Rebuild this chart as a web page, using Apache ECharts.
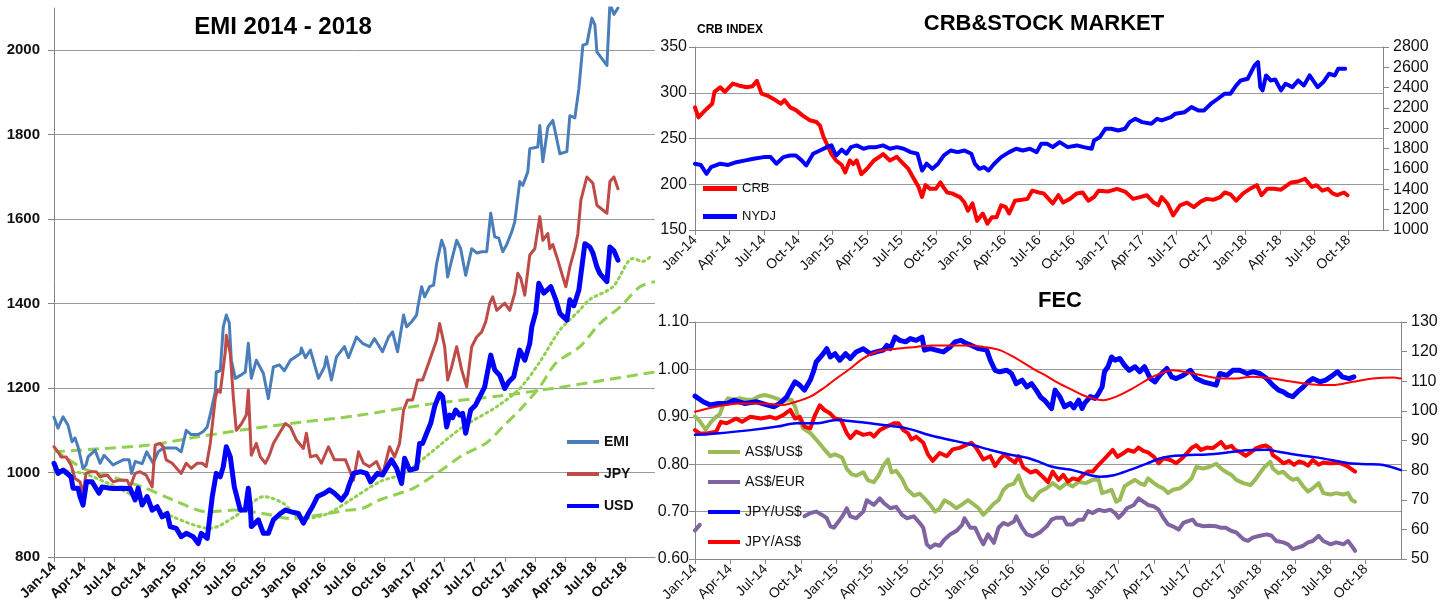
<!DOCTYPE html>
<html><head><meta charset="utf-8">
<script src="https://cdn.jsdelivr.net/npm/echarts@6/dist/echarts.min.js"></script>
<style>html,body{margin:0;padding:0;background:#fff}#c{width:1441px;height:613px}</style>
</head><body><div id="c"></div><script>
// x values are months since Jan-2014
const quarterLabels = ['Jan-14','Apr-14','Jul-14','Oct-14','Jan-15','Apr-15','Jul-15','Oct-15','Jan-16','Apr-16','Jul-16','Oct-16','Jan-17','Apr-17','Jul-17','Oct-17','Jan-18','Apr-18','Jul-18','Oct-18'];

// ---- EMI panel ----
const emi = [[0,1131],[0.4,1105],[0.9,1132],[1.4,1112],[1.8,1073],[2.1,1082],[2.4,1061],[2.9,1010],[3.2,1018],[3.4,1037],[4.1,1053],[4.6,1022],[5,1041],[5.9,1018],[6.9,1030],[7.5,1030],[7.75,998],[8.1,1026],[8.8,1021],[9.25,1049],[9.9,1022],[10.4,1049],[10.9,1058],[11.6,1058],[12.2,1058],[12.7,1049],[13.2,1100],[13.7,1090],[14.4,1090],[14.9,1097],[15.3,1108],[15.7,1148],[16.1,1191],[16.2,1238],[16.6,1241],[16.9,1345],[17.2,1373],[17.5,1354],[17.7,1266],[18.1,1223],[18.6,1230],[19.1,1238],[19.4,1306],[19.7,1223],[20.2,1266],[20.9,1235],[21.4,1175],[21.9,1250],[22.5,1255],[23,1241],[23.6,1266],[24.6,1282],[24.7,1295],[25.1,1272],[25.6,1290],[26.4,1223],[27,1250],[27.2,1274],[27.7,1219],[28.2,1274],[29,1298],[29.4,1272],[30.2,1321],[30.8,1306],[31.5,1298],[32,1317],[32.8,1286],[33.4,1321],[33.8,1333],[34.3,1286],[34.9,1373],[35.2,1345],[35.7,1357],[36.2,1373],[36.3,1389],[36.7,1440],[37,1416],[37.5,1440],[37.9,1444],[38.2,1495],[38.7,1550],[39,1530],[39.3,1463],[39.7,1503],[40.2,1550],[40.6,1530],[41.1,1467],[41.7,1530],[42.2,1520],[42.7,1523],[43.2,1523],[43.6,1614],[44,1558],[44.4,1555],[44.8,1523],[45.2,1540],[45.7,1570],[46,1594],[46.5,1689],[46.8,1680],[47.3,1712],[47.5,1767],[48.3,1771],[48.5,1822],[48.8,1736],[49.3,1818],[49.8,1834],[50.5,1755],[51.2,1760],[51.5,1845],[52,1840],[52.4,1909],[52.8,2012],[53.2,2015],[53.7,2076],[54,2060],[54.2,1996],[55.2,1964],[55.5,2110],[55.9,2085],[56.3,2100]];
const jpy = [[0,1061],[0.4,1049],[0.7,1037],[1.2,1037],[1.7,1018],[2.1,986],[2.6,978],[2.9,950],[3.2,998],[3.7,1002],[4.2,1002],[4.6,990],[5.3,994],[5.9,978],[6.6,982],[7.3,982],[7.6,966],[8.1,998],[8.6,1002],[9.2,994],[9.8,966],[10.1,1065],[10.6,1069],[10.9,1061],[11.2,1030],[11.8,1022],[12.7,998],[13.2,1022],[13.7,1010],[14.3,1022],[14.8,1022],[15.2,1014],[15.6,1069],[16.1,1175],[16.3,1195],[16.6,1190],[17.1,1286],[17.2,1325],[17.6,1282],[17.9,1179],[18.2,1100],[18.7,1115],[19.2,1136],[19.4,1195],[19.7,1041],[20.2,1069],[20.6,1037],[21.1,1022],[21.5,1041],[21.9,1069],[22.6,1097],[23.1,1116],[23.6,1108],[24.2,1077],[24.9,1057],[25.2,1093],[25.6,1037],[26.2,1041],[26.7,1022],[27.4,1061],[28,1030],[28.5,1030],[29.1,1030],[29.9,982],[30.4,1049],[30.9,1022],[31.5,1014],[32.2,1026],[32.8,994],[33.5,1061],[34,1037],[34.5,1069],[34.9,1148],[35.3,1172],[35.8,1172],[36.3,1219],[36.8,1219],[37.5,1266],[38.2,1314],[38.5,1353],[39,1298],[39.3,1219],[39.7,1250],[40.2,1298],[40.7,1243],[41.2,1203],[41.7,1298],[42.2,1321],[42.7,1333],[43.1,1357],[43.5,1401],[43.8,1416],[44.2,1384],[45,1401],[45.5,1384],[46,1425],[46.3,1472],[46.6,1460],[47,1420],[47.5,1515],[48,1530],[48.5,1606],[48.8,1550],[49.3,1566],[49.5,1530],[49.8,1540],[50.3,1503],[50.8,1463],[51.1,1440],[51.5,1487],[52,1530],[52.3,1565],[52.6,1645],[53.2,1700],[53.8,1685],[54.2,1633],[55.2,1614],[55.5,1689],[55.9,1700],[56.3,1672]];
const usd = [[0,1022],[0.4,998],[0.9,1006],[1.7,990],[1.9,963],[2.4,963],[2.6,943],[2.9,923],[3.25,978],[3.8,978],[4.5,951],[4.8,966],[5.6,963],[6,962],[6.7,963],[7.6,962],[8.1,935],[8.4,963],[8.8,923],[9.3,943],[9.8,911],[10.3,919],[10.8,895],[11.3,903],[11.6,872],[12.2,868],[12.7,848],[13.2,856],[13.9,848],[14.4,832],[14.7,856],[15.3,844],[15.8,943],[16.2,998],[16.6,990],[16.9,1014],[17.2,1061],[17.6,1037],[18,966],[18.6,911],[19.1,911],[19.4,963],[19.6,919],[19.7,872],[20.4,888],[20.9,856],[21.4,856],[21.9,888],[22.6,903],[23.1,911],[23.7,907],[24.4,903],[24.9,880],[25.4,903],[25.8,919],[26.3,943],[27,951],[27.5,959],[28,951],[28.7,935],[29.2,951],[29.4,966],[29.9,998],[30.6,1002],[31.2,998],[31.6,978],[32.3,998],[32.8,994],[33.7,1030],[34.2,1010],[34.7,974],[35,1034],[35.5,1006],[36.2,1010],[36.5,1069],[36.8,1069],[37.2,1093],[37.6,1116],[38,1156],[38.5,1187],[38.8,1180],[39.2,1108],[39.5,1136],[39.8,1130],[40.1,1148],[40.5,1136],[40.8,1140],[41.1,1093],[41.6,1148],[42.1,1160],[42.5,1179],[43,1203],[43.6,1278],[44,1243],[44.5,1230],[45,1199],[45.4,1215],[45.9,1227],[46,1238],[46.5,1290],[47,1266],[47.5,1306],[47.7,1345],[48.1,1380],[48.4,1448],[48.9,1425],[49.6,1440],[50.1,1409],[50.5,1377],[51.2,1361],[51.5,1409],[51.9,1395],[52.4,1432],[53,1542],[53.5,1534],[53.8,1520],[54.2,1487],[54.5,1471],[55.2,1452],[55.5,1534],[55.9,1525],[56.3,1503]];
const maLong = [[0,1049],[5,1057],[9.5,1065],[14.5,1085],[20,1105],[25,1120],[30,1134],[37.5,1162],[45,1183],[50,1200],[55,1219],[60,1238]];
const maMid = [[0,1055],[2.9,1010],[5.8,990],[8.8,966],[11.9,935],[15.3,907],[18,911],[20.9,903],[23.6,891],[26.6,900],[29.4,911],[30.8,915],[32.5,935],[35.8,962],[38.2,998],[40.8,1041],[43.1,1069],[44.8,1108],[46.8,1156],[48.5,1203],[50.1,1259],[52.5,1298],[54.5,1353],[56.6,1394],[58.5,1440],[60,1452]];
const maShort = [[0,1006],[2.9,998],[5.8,970],[8.8,935],[11.9,895],[15.6,868],[18,895],[19.7,927],[20.9,943],[22.9,927],[24.6,891],[26.3,895],[27.7,907],[29.6,935],[32.5,978],[34.9,998],[37.5,1045],[40.8,1108],[44.2,1156],[46.5,1199],[48.5,1262],[50.5,1337],[52.5,1385],[53.5,1410],[55.8,1440],[57.8,1507],[58.8,1500],[59.7,1515]];

// ---- CRB & stock market panel ----
const crb = [[0,284],[0.3,273],[0.9,281],[1.5,288],[1.7,301],[2.2,306],[2.6,301],[3.3,310],[3.8,308],[4.5,306],[5,307],[5.4,313],[5.8,299],[6.3,297],[7,292],[7.5,288],[7.8,292],[8.3,284],[8.8,281],[9.4,275],[10,270],[10.6,268],[10.9,264],[11.2,252],[11.5,244],[11.9,233],[12.3,226],[12.8,221],[13.1,213],[13.5,226],[13.8,222],[14.1,226],[14.5,211],[15,217],[15.6,226],[16.1,230],[16.4,233],[17,226],[17.6,230],[18.2,222],[18.6,217],[19,208],[19.5,197],[19.8,186],[20.1,199],[20.5,195],[21,195],[21.4,202],[21.7,196],[22,191],[22.4,190],[23.1,186],[23.5,180],[23.8,171],[24.2,179],[24.6,160],[25.1,168],[25.5,157],[25.9,164],[26.3,164],[26.7,177],[27.1,175],[27.4,168],[27.9,182],[28.5,183],[29,184],[29.4,193],[30,191],[30.4,190],[30.7,186],[31.2,179],[31.7,188],[32.1,180],[32.7,184],[33.3,190],[33.8,191],[34.3,182],[34.8,186],[35.2,193],[36,192],[36.8,195],[37.5,192],[38.2,184],[38.8,186],[39.4,188],[40,180],[40.4,177],[40.7,186],[41.2,179],[41.7,166],[42.3,177],[42.9,180],[43.5,175],[44.1,181],[44.6,184],[45.2,183],[45.8,186],[46.2,191],[46.7,189],[47.2,182],[47.8,190],[48.4,195],[49,199],[49.4,188],[49.9,195],[50.5,195],[51.1,194],[52,202],[52.6,203],[53.2,206],[53.8,197],[54.2,199],[54.7,193],[55.2,195],[55.6,190],[56,188],[56.6,191],[56.9,188]];
const nydj = [[0,1652],[0.5,1640],[1,1553],[1.4,1618],[2.2,1652],[2.9,1640],[3.6,1667],[4.4,1685],[5.1,1701],[6,1717],[6.6,1717],[7.1,1652],[7.7,1717],[8.3,1733],[8.8,1733],[9.3,1685],[9.7,1635],[10.3,1750],[10.9,1782],[11.5,1815],[11.9,1832],[12.3,1733],[12.8,1790],[13.2,1750],[13.6,1815],[14.1,1832],[14.7,1799],[15.2,1815],[15.8,1815],[16.4,1832],[17,1799],[17.6,1815],[18.2,1799],[18.8,1766],[19.4,1750],[19.8,1585],[20.2,1652],[20.7,1602],[21.2,1652],[21.7,1733],[22.3,1782],[22.9,1766],[23.5,1782],[24.1,1750],[24.4,1652],[24.8,1602],[25.2,1618],[25.6,1585],[26.1,1652],[26.7,1717],[27.4,1766],[28,1799],[28.6,1782],[29.2,1799],[29.8,1766],[30.2,1848],[30.7,1848],[31.2,1815],[31.8,1864],[32.5,1815],[33.3,1832],[33.9,1815],[34.6,1799],[34.8,1881],[35.3,1913],[35.8,1996],[36.3,1996],[36.9,1979],[37.5,1996],[37.9,2061],[38.4,2094],[39,2061],[39.8,2045],[40.3,2094],[40.7,2078],[41.5,2110],[41.9,2144],[42.7,2159],[43.3,2209],[43.9,2176],[44.4,2176],[45,2242],[45.6,2291],[46.2,2341],[46.7,2341],[47.2,2422],[47.6,2471],[48.2,2488],[48.8,2619],[49.1,2652],[49.3,2405],[49.5,2373],[49.8,2520],[50.2,2471],[50.6,2480],[51.1,2373],[51.5,2439],[52.1,2405],[52.6,2471],[53.1,2422],[53.6,2520],[54,2455],[54.3,2405],[54.8,2455],[55.3,2537],[55.8,2520],[56.1,2587],[56.7,2587]];

// ---- FEC panel ----
const audUsd = [[0,0.901],[0.4,0.891],[0.9,0.873],[1.3,0.887],[1.7,0.898],[2.1,0.905],[2.4,0.925],[2.8,0.939],[3.3,0.936],[3.8,0.939],[4.4,0.936],[4.9,0.936],[5.4,0.943],[5.9,0.946],[6.4,0.943],[6.9,0.939],[7.5,0.932],[7.9,0.936],[8.2,0.936],[8.5,0.922],[8.8,0.898],[9.2,0.875],[9.8,0.866],[10.3,0.852],[10.9,0.834],[11.5,0.817],[11.9,0.821],[12.5,0.814],[12.9,0.790],[13.3,0.779],[13.7,0.776],[14.3,0.783],[14.7,0.766],[15.2,0.762],[15.6,0.776],[16,0.797],[16.4,0.810],[16.7,0.783],[17.1,0.786],[17.6,0.769],[18,0.748],[18.6,0.734],[19.1,0.738],[19.5,0.728],[20,0.714],[20.4,0.700],[20.8,0.707],[21.2,0.724],[21.7,0.717],[22.2,0.707],[22.8,0.717],[23.2,0.724],[23.6,0.717],[24.1,0.707],[24.5,0.693],[24.9,0.703],[25.4,0.717],[25.8,0.724],[26.2,0.745],[26.6,0.755],[27.1,0.759],[27.5,0.776],[27.8,0.755],[28.2,0.734],[28.7,0.724],[29.3,0.742],[29.9,0.750],[30.4,0.760],[31,0.749],[31.6,0.760],[32.1,0.753],[32.6,0.763],[33.2,0.760],[33.8,0.767],[34.3,0.767],[34.6,0.739],[35,0.742],[35.4,0.746],[35.8,0.721],[36.1,0.725],[36.5,0.753],[36.9,0.760],[37.4,0.767],[37.8,0.760],[38.2,0.756],[38.5,0.770],[39,0.760],[39.4,0.753],[39.8,0.749],[40.2,0.739],[40.6,0.746],[41.2,0.749],[41.8,0.760],[42.2,0.770],[42.6,0.794],[43.2,0.791],[43.7,0.794],[44.3,0.801],[44.7,0.791],[45.1,0.784],[45.6,0.777],[46,0.767],[46.6,0.760],[47.2,0.756],[47.6,0.767],[48,0.781],[48.4,0.794],[48.9,0.805],[49.1,0.791],[49.6,0.781],[50,0.784],[50.4,0.774],[50.8,0.767],[51.2,0.770],[51.7,0.753],[52.1,0.742],[52.5,0.749],[53,0.760],[53.4,0.739],[54,0.736],[54.5,0.739],[55.1,0.736],[55.5,0.739],[55.8,0.725],[56.1,0.721]];
const audEurStart = [[0,0.660],[0.4,0.672]];
const audEur = [[9.3,0.690],[9.8,0.697],[10.3,0.700],[10.8,0.693],[11.2,0.686],[11.5,0.669],[11.8,0.666],[12.2,0.679],[12.6,0.693],[12.9,0.707],[13.2,0.690],[13.7,0.686],[14.3,0.700],[14.6,0.724],[15.2,0.714],[15.7,0.728],[16.1,0.717],[16.6,0.707],[17.1,0.710],[17.6,0.693],[18,0.686],[18.6,0.690],[19.1,0.676],[19.4,0.666],[19.7,0.631],[20,0.624],[20.4,0.631],[20.8,0.628],[21.2,0.641],[21.7,0.652],[22.2,0.659],[22.7,0.672],[22.9,0.686],[23.4,0.666],[23.8,0.666],[24.2,0.645],[24.5,0.631],[24.9,0.652],[25.4,0.634],[25.8,0.666],[26.2,0.676],[26.6,0.672],[27.1,0.679],[27.3,0.690],[27.8,0.666],[28.2,0.652],[28.7,0.648],[29.3,0.656],[29.9,0.669],[30.3,0.683],[30.7,0.687],[31.3,0.687],[31.6,0.673],[32.1,0.673],[32.6,0.683],[33,0.683],[33.4,0.701],[33.8,0.697],[34.3,0.704],[34.8,0.701],[35.3,0.704],[35.7,0.697],[36,0.687],[36.4,0.697],[36.7,0.707],[37.3,0.714],[37.7,0.728],[38.1,0.721],[38.5,0.714],[39,0.711],[39.4,0.704],[39.8,0.687],[40.2,0.673],[40.6,0.669],[41.1,0.662],[41.5,0.676],[41.9,0.680],[42.3,0.683],[42.6,0.673],[43.2,0.669],[43.7,0.670],[44.3,0.669],[44.7,0.666],[45.1,0.666],[45.6,0.659],[46,0.656],[46.6,0.642],[47,0.638],[47.4,0.645],[48,0.649],[48.6,0.652],[49,0.649],[49.4,0.638],[50,0.635],[50.4,0.631],[50.8,0.621],[51.2,0.624],[51.7,0.628],[52.1,0.635],[52.5,0.638],[53,0.649],[53.4,0.638],[54,0.631],[54.5,0.635],[55.1,0.631],[55.5,0.638],[55.8,0.628],[56.1,0.617]];
const jpyUsd = [[0,105.0],[0.7,103.1],[1.3,102.0],[2,102.5],[2.7,102.5],[3.3,103.6],[4.2,102.5],[5.2,103.1],[6.1,102.0],[6.7,101.4],[7.2,102.5],[7.8,104.7],[8.1,107.0],[8.5,109.8],[8.9,108.7],[9.3,107.0],[9.8,110.4],[10.1,113.7],[10.3,116.5],[10.8,118.8],[11.2,121.0],[11.5,118.2],[11.9,119.3],[12.3,117.1],[12.8,119.3],[13.2,117.7],[13.7,119.9],[14.3,121.0],[14.9,119.3],[15.4,119.9],[16,120.5],[16.3,122.1],[16.6,121.0],[17,124.9],[17.4,123.8],[17.9,123.3],[18.3,124.4],[18.8,123.8],[19.3,124.9],[19.5,120.5],[20,121.0],[20.5,120.5],[21.1,119.9],[21.7,121.6],[22.1,123.3],[22.6,123.8],[23.1,122.7],[23.5,122.1],[24.1,121.0],[24.8,120.5],[25.1,117.1],[25.5,113.7],[25.9,113.2],[26.5,113.7],[26.9,112.6],[27.3,109.2],[27.8,110.4],[28.2,108.1],[28.6,109.2],[29.0,107.0],[29.4,104.5],[29.7,103.6],[30.3,100.8],[30.6,107.0],[31,104.8],[31.4,101.4],[31.9,102.5],[32.2,101.0],[32.6,103.6],[32.9,100.8],[33.1,102.5],[33.6,104.8],[34,104.2],[34.3,105.9],[34.6,108.1],[34.8,113.2],[35.1,114.9],[35.4,118.2],[35.7,117.1],[36.1,117.7],[36.5,115.4],[36.9,113.7],[37.4,114.9],[37.8,113.2],[38.2,114.9],[38.7,110.9],[39.1,109.8],[39.5,112.0],[40.1,114.3],[40.5,111.5],[40.9,110.9],[41.5,112.0],[42.1,113.7],[42.6,110.9],[43.2,109.8],[43.8,109.2],[44.3,108.7],[44.6,112.6],[45.2,112.0],[45.7,113.7],[46.3,113.7],[46.9,112.6],[47.4,113.2],[48,112.6],[48.6,110.9],[49.1,108.7],[49.6,107.0],[50,106.4],[50.4,105.3],[50.8,104.8],[51.2,106.4],[51.7,108.1],[52.1,109.8],[52.5,110.9],[53.1,109.8],[53.6,110.4],[54.2,112.0],[54.6,113.2],[55,111.5],[55.6,110.9],[56,111.5]];
const jpyAud = [[0,93.5],[0.4,92.4],[1,92.4],[1.8,93.0],[2.2,96.3],[2.7,95.8],[3.5,97.4],[4,96.3],[4.7,98.0],[5.6,97.4],[6.4,98.0],[6.9,97.4],[7.5,98.6],[8.1,100.3],[8.5,97.4],[8.9,98.0],[9.3,94.7],[9.8,94.1],[10.2,98.6],[10.6,101.9],[11.0,100.3],[11.5,99.1],[11.9,97.4],[12.4,97.0],[12.9,92.5],[13.2,90.8],[13.7,93.0],[14.3,91.9],[14.9,92.4],[15.2,91.3],[15.7,93.5],[16.3,94.7],[16.9,95.8],[17.3,95.8],[17.7,93.5],[18.1,92.5],[18.4,90.3],[18.8,91.3],[19.4,89.2],[19.8,85.3],[20.2,83.1],[20.8,85.8],[21.4,84.7],[21.9,87.0],[22.5,87.5],[23.1,88.6],[23.5,89.2],[23.9,87.5],[24.5,83.6],[25.1,84.7],[25.5,81.4],[25.9,83.6],[26.3,85.3],[26.8,83.6],[27.2,82.5],[27.5,84.7],[27.9,80.9],[28.5,79.2],[29,79.8],[29.6,77.6],[30,76.0],[30.4,79.5],[30.9,76.7],[31.3,78.4],[31.7,76.1],[32.1,77.2],[32.6,76.7],[33,78.4],[33.4,79.5],[33.8,79.5],[34.3,81.8],[34.7,83.4],[35.1,85.1],[35.5,86.8],[35.9,84.5],[36.4,85.7],[36.8,86.8],[37.3,86.2],[37.7,87.6],[38.1,86.5],[38.5,86.0],[39,84.5],[39.4,82.3],[39.8,84.0],[40.4,83.4],[40.9,82.3],[41.4,84.0],[41.8,85.7],[42.2,87.5],[42.6,88.4],[43,86.8],[43.5,87.6],[44,87.4],[44.3,88.3],[44.7,89.5],[45.1,87.5],[45.6,88.2],[45.9,86.8],[46.3,86.2],[46.8,84.8],[47.3,86.2],[47.7,87.4],[48,87.9],[48.5,88.3],[48.9,87.4],[49.1,85.1],[49.6,83.7],[50,82.3],[50.5,83.1],[50.9,81.8],[51.3,82.9],[51.7,82.5],[52.1,81.5],[52.5,83.4],[53,81.8],[53.4,82.6],[53.8,82.3],[54.2,82.3],[54.7,82.5],[55.1,81.9],[55.5,81.2],[55.8,80.3],[56.1,79.5]];
const jpyUsdAvg = [[0,99.7],[1.8,101.4],[3.8,102.5],[5.8,102.5],[7.5,102.0],[8.6,103.1],[9.8,104.8],[10.9,107.6],[12,110.9],[13.2,114.3],[14.3,117.7],[15.4,119.9],[17.1,121.0],[18.8,121.6],[20.2,122.1],[21.7,122.1],[23.4,122.1],[24.5,121.6],[25.9,120.5],[27.3,117.7],[28.7,114.3],[30,111.5],[30.7,109.8],[32.1,107.0],[33.3,104.8],[34.7,103.6],[35.8,104.8],[37.2,107.6],[38.9,111.5],[40.6,113.7],[42.3,112.6],[44,111.3],[45.7,110.9],[47.4,111.5],[49.1,110.9],[50.8,109.8],[52.5,108.9],[54.2,108.7],[55.9,109.8],[57.6,110.9],[59.3,111.3],[60,110.9]];
const jpyAudAvg = [[0,91.9],[1.8,92.4],[4.7,93.5],[7,94.7],[8.6,95.8],[10.3,95.8],[12,96.9],[13.7,96.3],[16,95.2],[18,94.1],[20.2,91.5],[21.7,90.2],[23.3,88.8],[25.1,86.8],[26.8,85.2],[28.2,84.2],[29.3,82.7],[30.2,81.3],[31,80.6],[32.1,80.0],[33.6,78.3],[34.4,77.8],[35.6,78.3],[36.9,80.0],[38.4,82.2],[39.5,83.9],[40.6,84.8],[42,85.1],[43.5,85.3],[45.1,85.9],[46.8,86.7],[48.6,86.9],[49.7,86.1],[51.4,85.0],[52.8,84.3],[54.2,83.3],[55.6,82.3],[57.1,82.0],[58.5,81.7],[60,80.0]];

const FONT = '"Liberation Sans", Arial, sans-serif';
const AXIS = '#868686', GRID = '#9a9a9a';
const plain = v => String(v);

function xAx(gi, bold) {
  return {type:'value', gridIndex:gi, min:0, max:60, interval:3,
    axisLine:{show:true, onZero:false, lineStyle:{color:AXIS, width:1}},
    axisTick:{show:true, length:5, lineStyle:{color:AXIS}},
    splitLine:{show:false},
    axisLabel:{rotate:45, margin:8, showMaxLabel:false, color:'#111', fontFamily:FONT,
      fontSize:14, fontWeight: bold ? 'bold' : 'normal',
      formatter: v => quarterLabels[Math.round(v/3)] || ''}};
}
function yAx(gi, o) {
  return Object.assign({type:'value', gridIndex:gi,
    axisLine:{show:true, lineStyle:{color:AXIS, width:1}},
    axisTick:{show:true, length:6, lineStyle:{color:AXIS}},
    splitLine:{show:false},
    axisLabel:{color:'#111', fontFamily:FONT, fontSize:16, margin:8, formatter:plain}}, o);
}
function ln(name, data, xi, yi, color, width, extra) {
  return Object.assign({type:'line', name, data, xAxisIndex:xi, yAxisIndex:yi,
    showSymbol:false, symbol:'none', animation:false, silent:true,
    lineStyle:{color, width, join:'round', cap:'round'}, itemStyle:{color}}, extra||{});
}

const option = {
  backgroundColor:'#fff',
  animation:false,
  grid:[
    {left:54, top:8, width:601, height:549},
    {left:695, top:47, width:688, height:183},
    {left:695, top:322, width:706, height:237}
  ],
  xAxis:[xAx(0,true), xAx(1,false), xAx(2,false)],
  yAxis:[
    yAx(0,{min:800, max:2100, interval:200,
      splitLine:{show:true, showMaxLine:false, lineStyle:{color:GRID, width:1}},
      axisLabel:{color:'#111', fontFamily:FONT, fontSize:15, fontWeight:'bold', margin:14, showMaxLabel:false, formatter:plain}}),
    yAx(1,{min:150, max:350, interval:50, splitLine:{show:true, lineStyle:{color:GRID, width:1}}}),
    yAx(1,{min:1000, max:2800, interval:200, position:'right', axisLabel:{color:'#111', fontFamily:FONT, fontSize:16, margin:10, formatter:plain}}),
    yAx(2,{min:0.6, max:1.1, interval:0.1, splitLine:{show:true, lineStyle:{color:GRID, width:1}},
      axisLabel:{color:'#111', fontFamily:FONT, fontSize:16, margin:6, formatter:v=>v.toFixed(2)}}),
    yAx(2,{min:50, max:130, interval:10, position:'right', axisLabel:{color:'#111', fontFamily:FONT, fontSize:16, margin:10, formatter:plain}})
  ],
  legend:[
    {data:['EMI','JPY','USD'], orient:'vertical', left:567, top:435, padding:0, itemWidth:32, itemHeight:4, itemGap:18, icon:'rect',
     textStyle:{fontFamily:FONT, fontSize:14, fontWeight:'bold', color:'#111'}, selectedMode:false},
    {data:['CRB','NYDJ'], orient:'vertical', left:703, top:182, padding:0, itemWidth:34, itemHeight:5, itemGap:15, icon:'rect',
     textStyle:{fontFamily:FONT, fontSize:13, color:'#111'}, selectedMode:false},
    {data:['AS$/US$','AS$/EUR','JPY/US$','JPY/AS$'], orient:'vertical', left:708, top:445, padding:0, itemWidth:32, itemHeight:4, itemGap:16, icon:'rect',
     textStyle:{fontFamily:FONT, fontSize:14, color:'#111'}, selectedMode:false}
  ],
  graphic:[
    {type:'text', x:283, y:27, style:{text:'EMI 2014 - 2018', fontFamily:FONT, fontSize:24, fontWeight:'bold', fill:'#000', align:'center', verticalAlign:'middle', textAlign:'center', textVerticalAlign:'middle'}},
    {type:'text', x:1044, y:24, style:{text:'CRB&STOCK MARKET', fontFamily:FONT, fontSize:22, fontWeight:'bold', fill:'#000', align:'center', verticalAlign:'middle', textAlign:'center', textVerticalAlign:'middle'}},
    {type:'text', x:697, y:30, style:{text:'CRB INDEX', fontFamily:FONT, fontSize:12, fontWeight:'bold', fill:'#000', align:'left', verticalAlign:'middle', textAlign:'left', textVerticalAlign:'middle'}},
    {type:'text', x:1060, y:301, style:{text:'FEC', fontFamily:FONT, fontSize:22, fontWeight:'bold', fill:'#000', align:'center', verticalAlign:'middle', textAlign:'center', textVerticalAlign:'middle'}}
  ],
  series:[
    ln('MA long', maLong, 0, 0, '#92d050', 3, {smooth:0.3, lineStyle:{color:'#92d050', width:3, type:[11,6]}}),
    ln('MA mid', maMid, 0, 0, '#92d050', 3, {smooth:0.3, lineStyle:{color:'#92d050', width:3, type:[11,6]}}),
    ln('MA short', maShort, 0, 0, '#92d050', 3, {smooth:0.3, lineStyle:{color:'#92d050', width:3, type:[2,4], cap:'round'}}),
    ln('EMI', emi, 0, 0, '#4a7ebb', 3),
    ln('JPY', jpy, 0, 0, '#be4b48', 3),
    ln('USD', usd, 0, 0, '#0000ff', 5),
    ln('CRB', crb, 1, 1, '#ff0000', 4),
    ln('NYDJ', nydj, 1, 2, '#0000ff', 4),
    ln('AS$/US$', audUsd, 2, 3, '#9bbb59', 4),
    ln('AS$/EUR', audEurStart, 2, 3, '#8064a2', 4),
    ln('AS$/EUR', audEur, 2, 3, '#8064a2', 4),
    ln('JPY/US$', jpyUsd, 2, 4, '#0000ff', 5),
    ln('JPY/AS$', jpyAud, 2, 4, '#ff0000', 4),
    ln('JPY/US$ avg', jpyUsdAvg, 2, 4, '#ff0000', 2, {smooth:0.3}),
    ln('JPY/AS$ avg', jpyAudAvg, 2, 4, '#0000ff', 2.5, {smooth:0.3})
  ]
};
const chart = echarts.init(document.getElementById('c'), null, {renderer:'canvas'});
chart.setOption(option);
</script></body></html>
